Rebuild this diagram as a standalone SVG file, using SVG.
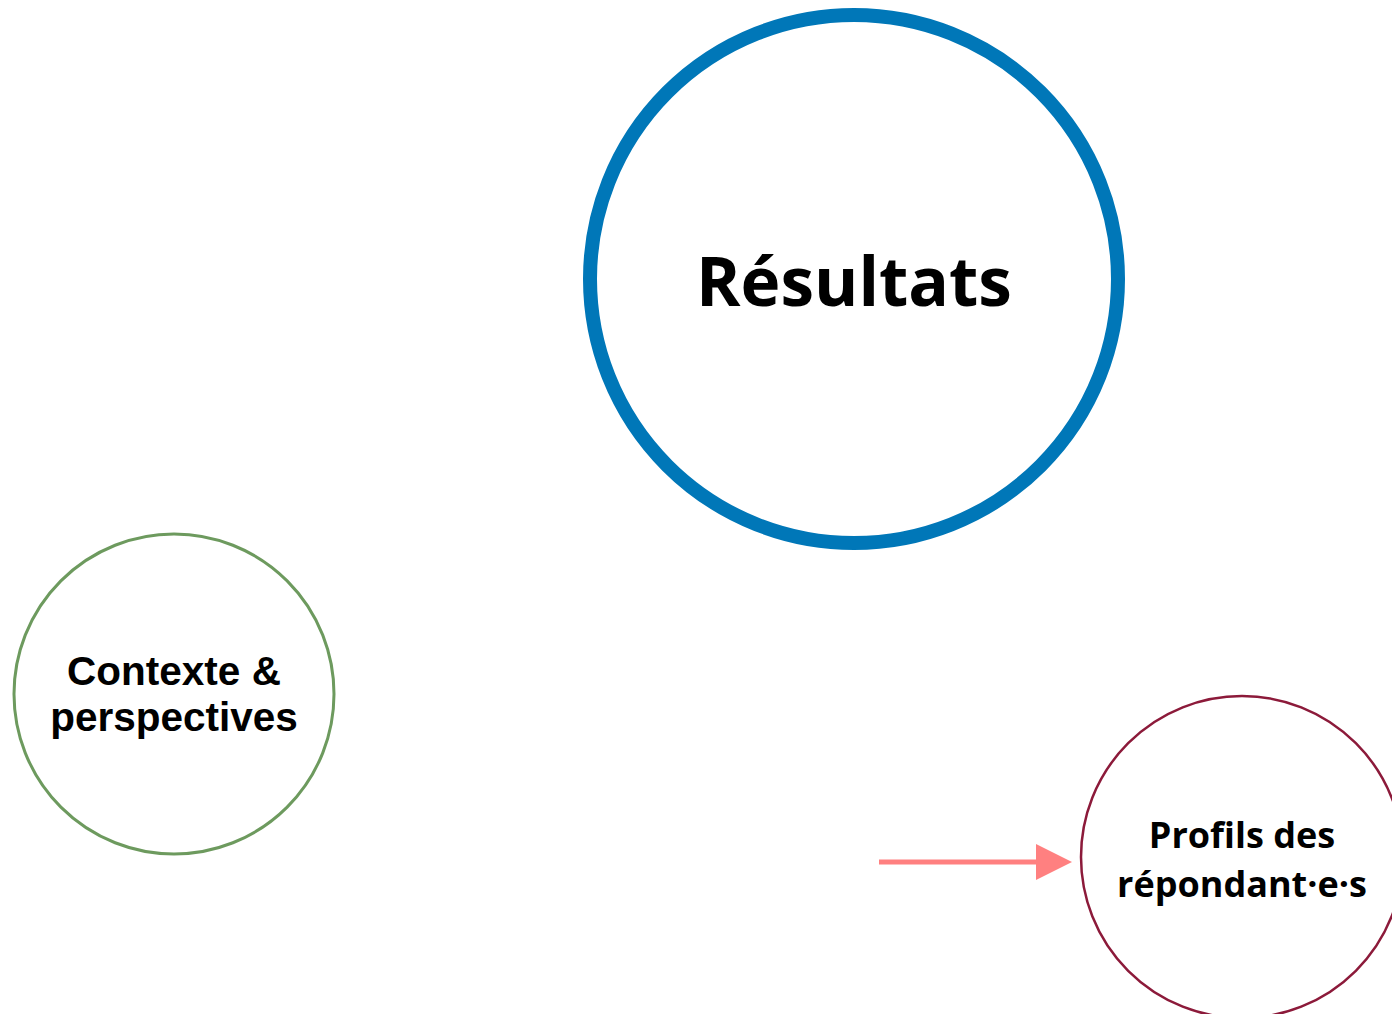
<svg xmlns="http://www.w3.org/2000/svg" width="1392" height="1014" viewBox="0 0 1392 1014">
<style>
.os{font-family:"Open Sans","Noto Sans",sans-serif;font-weight:700;fill:#000;text-anchor:middle}
.ar{font-family:"Liberation Sans",Arial,sans-serif;font-weight:700;fill:#000;text-anchor:middle}
</style>
<defs>
<marker id="ah" markerUnits="userSpaceOnUse" markerWidth="36" markerHeight="36" refX="1" refY="18" orient="auto">
<path d="M0,0 L36,18 L0,36 Z" fill="#ff8080"/>
</marker>
</defs>
<rect width="1392" height="1014" fill="#fff"/>
<g id="resultats">
<circle cx="854" cy="279" r="264" fill="#fff" stroke="#0077b8" stroke-width="14"/>
<text class="os" x="854" y="306" font-size="67.5">Résultats</text>
</g>
<g id="contexte">
<circle cx="174" cy="694" r="160" fill="#fff" stroke="#6d9a5e" stroke-width="3"/>
<text class="ar" x="174" y="685" font-size="40.5">Contexte &amp;</text>
<text class="ar" x="174" y="731" font-size="40.5">perspectives</text>
</g>
<g id="profils">
<circle cx="1242" cy="857" r="161" fill="#fff" stroke="#8c1a3a" stroke-width="2.5"/>
<text class="os" x="1242" y="848" font-size="36">Profils des</text>
<text class="os" x="1242" y="897" font-size="36">répondant·e·s</text>
</g>
<g id="connectors">
<line x1="879" y1="862" x2="1037" y2="862" stroke="#ff8080" stroke-width="5" marker-end="url(#ah)"/>
</g>
</svg>
